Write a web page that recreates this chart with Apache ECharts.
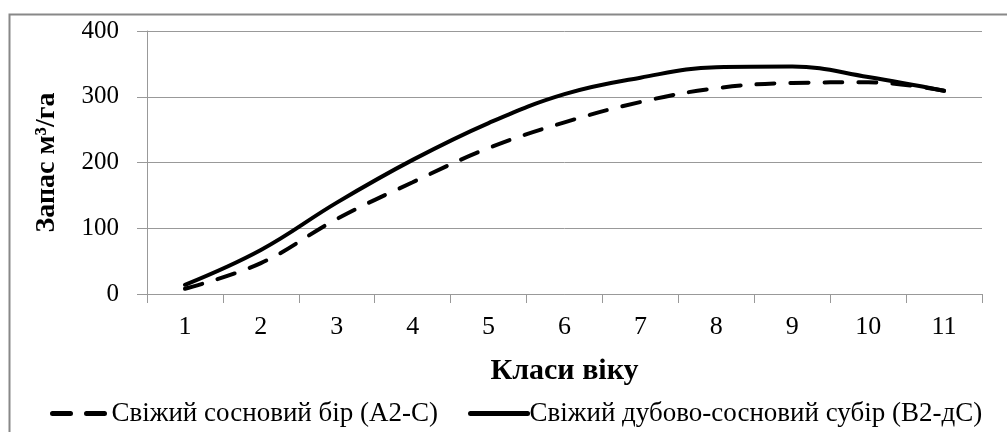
<!DOCTYPE html>
<html><head><meta charset="utf-8">
<script src="https://cdn.jsdelivr.net/npm/echarts@6/dist/echarts.min.js"></script>
<style>html,body{margin:0;padding:0;background:#fff}#c{width:1007px;height:432px}</style>
</head><body><div id="c"></div>
<script>
const categories = ['1','2','3','4','5','6','7','8','9','10','11'];
const seriesNames = ['Свіжий сосновий бір (А2-С)', 'Свіжий дубово-сосновий субір (В2-дС)'];
const pineValues = [8, 47, 114, 170, 222, 261, 292, 313, 321, 322, 309];
const oakPineValues = [14, 67, 139, 204, 260, 304, 329, 345, 346, 330, 309];
const yTicks = [0, 100, 200, 300, 400];
const F = 'Liberation Serif, Times New Roman, serif';
const chart = echarts.init(document.getElementById('c'));
chart.setOption({
  animation: false,
  backgroundColor: '#fff',
  textStyle: {fontFamily: F, color: '#000'},
  graphic: [{type: 'rect', shape: {x: 9.5, y: 14.5, width: 1020, height: 440}, style: {fill: 'none', stroke: '#888', lineWidth: 2}, silent: true}],
  grid: {left: 147, right: 25, top: 31, bottom: 138},
  legend: {
    left: 45, top: 395, itemWidth: 57, itemHeight: 14, itemGap: 30,
    itemStyle: {opacity: 0},
    lineStyle: {width: 5},
    textStyle: {fontFamily: F, fontSize: 27, color: '#000', padding: [0,0,0,-3]},
    data: seriesNames
  },
  xAxis: {
    type: 'category', data: categories, boundaryGap: true,
    name: 'Класи віку', nameLocation: 'middle', nameGap: 62,
    nameTextStyle: {fontFamily: F, fontSize: 30, fontWeight: 'bold', color: '#000'},
    axisLine: {lineStyle: {color: '#999', width: 1}},
    axisTick: {show: true, interval: 0, length: 9, lineStyle: {color: '#999'}},
    axisLabel: {fontFamily: F, fontSize: 26, color: '#000', margin: 20, interval: 0}
  },
  yAxis: {
    type: 'value', min: yTicks[0], max: yTicks[yTicks.length-1], interval: 100,
    name: 'Запас м³/га', nameLocation: 'middle', nameGap: 86, nameRotate: 90,
    nameTextStyle: {fontFamily: F, fontSize: 28, fontWeight: 'bold', color: '#000'},
    axisLine: {show: true, lineStyle: {color: '#999', width: 1}},
    axisTick: {show: true, length: 10, lineStyle: {color: '#999'}},
    axisLabel: {fontFamily: F, fontSize: 25, color: '#000', margin: 28},
    splitLine: {lineStyle: {color: '#999', width: 1}}
  },
  series: [
    {name: seriesNames[0], type: 'line', data: pineValues, smooth: 0.4, symbol: 'none',
     lineStyle: {color: '#000', width: 4, type: [18, 16], cap: 'round'}, itemStyle: {color: '#000'}},
    {name: seriesNames[1], type: 'line', data: oakPineValues, smooth: 0.4, symbol: 'none',
     lineStyle: {color: '#000', width: 4, cap: 'round'}, itemStyle: {color: '#000'}}
  ]
});
</script></body></html>
